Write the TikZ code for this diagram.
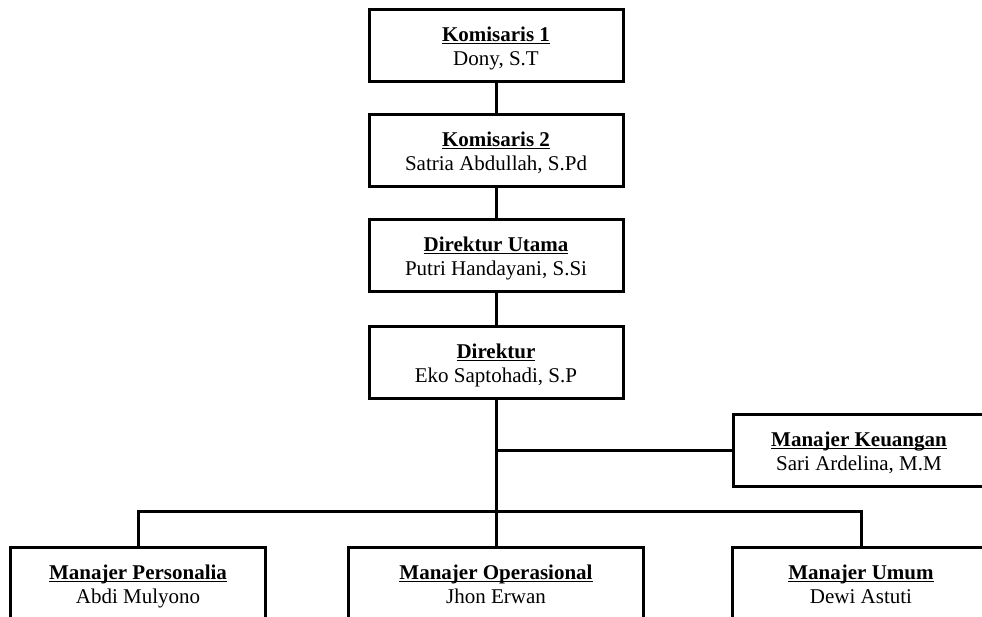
\documentclass[tikz,border=0pt]{standalone}
\usepackage{fontspec}
\setmainfont{Liberation Serif}
\newcommand\orgul[1]{\setbox0\hbox{#1}\rlap{\rule[-2.6pt]{\wd0}{1.4pt}}\box0}
\newcommand\orgtext[2]{\rule{0pt}{22pt}\orgul{\textbf{#1}}\\#2\rule[-5pt]{0pt}{5pt}}
\begin{document}
\begin{tikzpicture}[x=1pt,y=-1pt,
  box/.style={draw, line width=3pt, align=center, inner sep=0pt, outer sep=0pt,
    minimum height=72pt, font=\fontsize{21}{24}\selectfont},
  link/.style={line width=3pt}]
\clip (0,0) rectangle (982,616);
\node[box, minimum width=254pt] (k1) at (496,45) {\orgtext{Komisaris 1}{Dony, S.T}};
\node[box, minimum width=254pt] (k2) at (496,150) {\orgtext{Komisaris 2}{Satria Abdullah, S.Pd}};
\node[box, minimum width=254pt] (du) at (496,255) {\orgtext{Direktur Utama}{Putri Handayani, S.Si}};
\node[box, minimum width=254pt] (d) at (496,362) {\orgtext{Direktur}{Eko Saptohadi, S.P}};
\node[box, minimum width=252pt] (keu) at (859,450) {\orgtext{Manajer Keuangan}{Sari Ardelina, M.M}};
\node[box, minimum width=255pt] (pers) at (138,583) {\orgtext{Manajer Personalia}{Abdi Mulyono}};
\node[box, minimum width=295pt] (op) at (496,583) {\orgtext{Manajer Operasional}{Jhon Erwan}};
\node[box, minimum width=257pt] (umum) at (861,583) {\orgtext{Manajer Umum}{Dewi Astuti}};
\coordinate (kj) at (d.south |- keu.west);
\coordinate (bar) at (496,511);
\draw[link] (k1) -- (k2);
\draw[link] (k2) -- (du);
\draw[link] (du) -- (d);
\draw[link] (d.south) -- (bar);
\draw[link] (kj) -- (keu.west);
\draw[link] (pers.north) -- (pers.north |- bar) -- (umum.north |- bar) -- (umum.north);
\draw[link] (bar) -- (op.north);
\end{tikzpicture}
\end{document}
